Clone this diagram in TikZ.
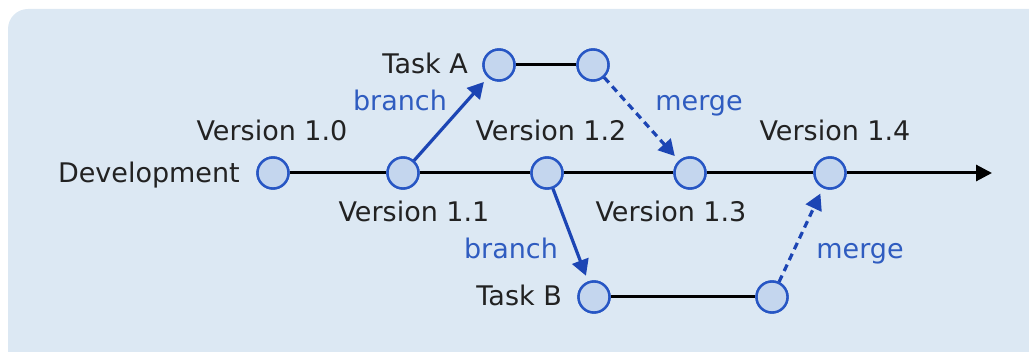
\documentclass[tikz,border=0pt]{standalone}
\usepackage{fontspec}
\setmainfont{DejaVu Sans}
\usetikzlibrary{arrows.meta}
\definecolor{bgblue}{HTML}{DCE8F3}
\definecolor{dotfill}{HTML}{C4D6EE}
\definecolor{dotline}{HTML}{2756C4}
\definecolor{linkblue}{HTML}{1C45B4}
\definecolor{labelblue}{HTML}{2F5CC0}
\definecolor{ink}{HTML}{222222}
\tikzset{
  commit/.style={circle, minimum size=31pt, inner sep=0pt, fill=dotfill, draw=dotline, line width=2.4pt},
  lbl/.style={anchor=base, inner sep=0pt, text=ink, font=\fontsize{27}{32}\selectfont},
  bluelbl/.style={lbl, text=labelblue},
  trunk/.style={draw=black, line width=3pt},
  branchlink/.style={draw=linkblue, line width=3.2pt, shorten >=6pt, -{Triangle[length=16pt,width=17pt]}},
  mergelink/.style={branchlink, dash pattern=on 7pt off 5pt},
}
\begin{document}
\begin{tikzpicture}[x=1pt, y=-1pt]
  \useasboundingbox (0,0) rectangle (1029,352);
  % panel
  \fill[bgblue, rounded corners=20pt] (8,9) rectangle (1060,380);

  % commits
  \node[commit] (v10) at (273,173) {};
  \node[commit] (v11) at (403,173) {};
  \node[commit] (v12) at (547,173) {};
  \node[commit] (v13) at (690,173) {};
  \node[commit] (v14) at (830,173) {};
  \node[commit] (ta1) at (499,65) {};
  \node[commit] (ta2) at (593,65) {};
  \node[commit] (tb1) at (594,297) {};
  \node[commit] (tb2) at (772,297) {};
  \coordinate (tip) at (992,173);

  % development trunk and task lines
  \draw[trunk] (v10) -- (v11) -- (v12) -- (v13) -- (v14);
  \draw[trunk, -{Triangle[length=16pt,width=16pt]}] (v14) -- (tip);
  \draw[trunk] (ta1) -- (ta2);
  \draw[trunk] (tb1) -- (tb2);
  \foreach \c in {v10,v11,v12,v13,v14,ta1,ta2,tb1,tb2}
    \node[commit] at (\c) {};

  % branch and merge links
  \draw[branchlink] (v11) -- (ta1);
  \draw[mergelink] (ta2) -- (v13);
  \draw[branchlink] (v12) -- (tb1);
  \draw[mergelink] (tb2) -- (v14);

  % labels
  \node[lbl, anchor=base east] (ldev) at (240,183) {Development};
  \node[lbl] (l10) at (272,141) {Version 1.0};
  \node[lbl] (l11) at (414,222) {Version 1.1};
  \node[lbl] (l12) at (551,141) {Version 1.2};
  \node[lbl] (l13) at (671,222) {Version 1.3};
  \node[lbl] (l14) at (835,141) {Version 1.4};
  \node[lbl, anchor=base east] (lta) at (468,74) {Task A};
  \node[lbl, anchor=base east] (ltb) at (562,306) {Task B};
  \node[bluelbl] (lb1) at (400,111) {branch};
  \node[bluelbl] (lm1) at (699,111) {merge};
  \node[bluelbl] (lb2) at (511,259) {branch};
  \node[bluelbl] (lm2) at (860,259) {merge};
\end{tikzpicture}
\end{document}
